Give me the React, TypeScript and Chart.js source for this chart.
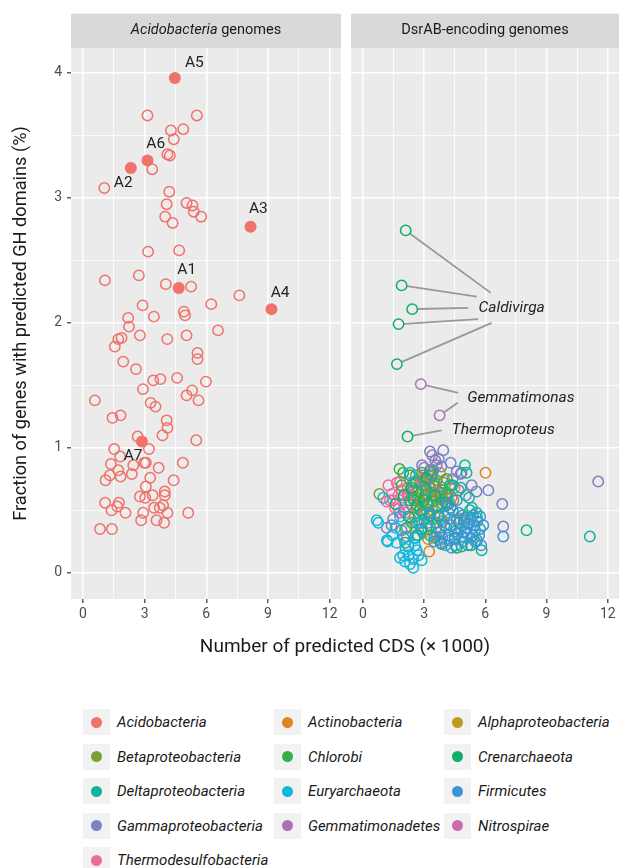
import React, { useEffect, useRef } from 'react';
import { Chart, registerables } from 'chart.js';
Chart.register(...registerables);

const FONT = 'Roboto, "Noto Sans", sans-serif';

// ---------- axes ----------
const xGridValues = [0, 1.5, 3, 4.5, 6, 7.5, 9, 10.5, 12];
const xMajorTicks = [0, 3, 6, 9, 12];
const xTickLabels = ['0', '3', '6', '9', '12'];
const yGridValues = [0, 0.5, 1, 1.5, 2, 2.5, 3, 3.5, 4];
const yMajorTicks = [0, 1, 2, 3, 4];
const yTickLabels = ['0', '1', '2', '3', '4'];
const xTitle = 'Number of predicted CDS (\u00d7 1000)';
const yTitle = 'Fraction of genes with predicted GH domains (%)';

// ---------- left panel: Acidobacteria genomes ----------
const acidoOpenX = [3.14, 5.54, 4.28, 4.88, 4.42, 4.11, 4.23, 3.37, 1.04, 4.20, 4.07, 5.04, 5.33, 5.39, 5.75, 4.00, 4.36, 3.17, 4.68, 1.07, 2.72, 4.03, 5.26, 7.61, 2.90, 6.24, 2.20, 3.45, 4.91, 4.97, 2.24, 6.57, 1.72, 1.88, 2.77, 4.10, 5.04, 1.55, 5.57, 5.57, 1.96, 2.58, 3.42, 3.77, 4.58, 5.98, 2.92, 5.31, 5.04, 5.62, 0.58, 3.29, 3.53, 1.44, 1.83, 4.07, 4.11, 3.87, 5.51, 2.66, 3.21, 1.52, 1.81, 1.36, 2.45, 2.98, 3.06, 4.86, 1.72, 2.38, 3.68, 1.31, 1.10, 1.83, 3.27, 4.41, 3.06, 3.98, 3.98, 3.39, 2.77, 3.03, 1.08, 1.75, 1.67, 1.39, 2.07, 2.93, 3.46, 3.74, 3.90, 4.11, 5.12, 2.83, 3.58, 3.95, 0.83, 1.41];
const acidoOpenY = [3.66, 3.66, 3.54, 3.55, 3.47, 3.35, 3.34, 3.23, 3.08, 3.05, 2.95, 2.96, 2.94, 2.89, 2.85, 2.85, 2.80, 2.57, 2.58, 2.34, 2.38, 2.31, 2.29, 2.22, 2.14, 2.15, 2.04, 2.05, 2.09, 2.06, 1.97, 1.94, 1.87, 1.88, 1.90, 1.87, 1.90, 1.81, 1.76, 1.71, 1.69, 1.63, 1.54, 1.55, 1.56, 1.53, 1.47, 1.46, 1.42, 1.38, 1.38, 1.36, 1.33, 1.24, 1.26, 1.22, 1.16, 1.10, 1.06, 1.09, 0.99, 0.99, 0.93, 0.87, 0.86, 0.88, 0.88, 0.88, 0.82, 0.79, 0.84, 0.78, 0.74, 0.77, 0.76, 0.74, 0.69, 0.65, 0.62, 0.62, 0.61, 0.60, 0.56, 0.56, 0.53, 0.50, 0.48, 0.48, 0.52, 0.52, 0.54, 0.48, 0.48, 0.42, 0.42, 0.40, 0.35, 0.35];
const acidoFilledX = [4.66, 2.33, 8.15, 9.17, 4.47, 3.14, 2.87];
const acidoFilledY = [2.28, 3.24, 2.77, 2.11, 3.96, 3.30, 1.05];
const acidoLabelNames = ['A1', 'A2', 'A3', 'A4', 'A5', 'A6', 'A7'];
const acidoLabelX = [5.05, 1.96, 8.53, 9.59, 5.42, 3.54, 2.44];
const acidoLabelY = [2.42, 3.12, 2.91, 2.24, 4.08, 3.43, 0.93];

// ---------- right panel: DsrAB-encoding genomes ----------
const euryX = [0.68, 0.76, 1.22, 1.66, 1.98, 1.82, 2.24, 2.07, 2.47, 2.31, 2.47, 2.73, 2.64, 2.88, 2.24, 1.82, 1.00, 2.31, 2.80, 1.18, 2.10, 2.55, 1.45, 2.00, 2.60, 1.60];
const euryY = [0.42, 0.40, 0.25, 0.24, 0.14, 0.12, 0.14, 0.09, 0.11, 0.07, 0.04, 0.14, 0.18, 0.10, 0.21, 0.45, 0.60, 0.80, 0.40, 0.26, 0.19, 0.22, 0.30, 0.28, 0.28, 0.36];
const firmX = [3.6, 3.8, 4.0, 4.2, 4.3, 4.5, 4.6, 4.8, 4.9, 5.0, 5.1, 5.2, 5.3, 5.4, 5.5, 5.6, 5.7, 5.8, 5.9, 4.4, 4.7, 5.0, 5.3, 3.9, 4.1, 6.88, 2.9, 3.3, 5.6, 4.2, 3.5, 4.05, 4.35, 4.65, 4.95, 5.15, 5.45, 5.75, 4.25, 4.85];
const firmY = [0.40, 0.33, 0.45, 0.30, 0.38, 0.27, 0.42, 0.35, 0.25, 0.44, 0.31, 0.39, 0.28, 0.46, 0.34, 0.41, 0.30, 0.22, 0.38, 0.50, 0.48, 0.33, 0.43, 0.28, 0.36, 0.29, 0.35, 0.48, 0.26, 0.55, 0.25, 0.22, 0.20, 0.31, 0.40, 0.22, 0.38, 0.45, 0.26, 0.29];
const deltaX = [5.0, 5.08, 4.84, 5.82, 5.57, 5.25, 8.02, 11.12, 3.2, 3.5, 3.7, 4.0, 4.3, 4.5, 4.7, 4.9, 5.1, 5.4, 5.6, 5.5, 4.6, 4.1, 3.9, 2.6, 2.9, 3.1, 4.4, 5.2, 3.4, 4.8, 2.4, 2.7, 3.0, 3.3, 3.6, 3.8, 4.2, 4.55, 5.35, 5.75, 3.15, 2.3];
const deltaY = [0.86, 0.80, 0.21, 0.18, 0.48, 0.50, 0.34, 0.29, 0.35, 0.28, 0.45, 0.38, 0.52, 0.33, 0.40, 0.46, 0.36, 0.30, 0.44, 0.25, 0.58, 0.62, 0.55, 0.72, 0.48, 0.66, 0.70, 0.60, 0.78, 0.68, 0.40, 0.30, 0.42, 0.45, 0.36, 0.24, 0.48, 0.22, 0.52, 0.35, 0.55, 0.58];
const gammaX = [3.29, 3.94, 3.55, 3.72, 4.60, 4.84, 5.33, 5.57, 6.15, 6.83, 6.88, 11.53, 1.17, 1.41, 1.49, 2.64, 3.29, 3.13, 3.55, 4.12, 2.15, 4.40, 3.85, 5.05, 2.00, 2.90, 3.45, 4.30, 4.70, 1.90];
const gammaY = [0.97, 0.98, 0.90, 0.91, 0.81, 0.80, 0.70, 0.65, 0.66, 0.55, 0.37, 0.73, 0.36, 0.38, 0.43, 0.40, 0.46, 0.66, 0.71, 0.54, 0.29, 0.75, 0.85, 0.62, 0.50, 0.86, 0.82, 0.88, 0.66, 0.34];
const crenX = [2.10, 1.90, 2.42, 1.75, 1.67, 2.19, 2.24, 2.64, 3.86, 4.60, 5.30, 3.13, 4.27, 1.60, 2.85, 3.55, 4.95, 3.30, 2.40, 4.50, 2.00, 2.55, 3.00, 3.70, 4.05, 2.30];
const crenY = [2.74, 2.30, 2.11, 1.99, 1.67, 1.09, 0.45, 0.54, 0.23, 0.20, 0.22, 0.76, 0.70, 0.55, 0.35, 0.62, 0.42, 0.82, 0.68, 0.28, 0.62, 0.28, 0.58, 0.46, 0.56, 0.78];
const chlorX = [1.79, 1.98, 2.64, 3.29, 2.07, 3.61, 2.80, 2.31, 4.12, 3.05, 3.29, 2.50, 3.80, 1.90, 2.15, 2.45, 2.75, 3.15, 3.45, 2.90];
const chlorY = [0.83, 0.80, 0.30, 0.30, 0.24, 0.53, 0.50, 0.44, 0.75, 0.62, 0.37, 0.58, 0.64, 0.70, 0.36, 0.66, 0.40, 0.48, 0.70, 0.80];
const nitroX = [3.78, 3.61, 1.82, 2.90, 2.64, 2.20, 3.20];
const nitroY = [0.26, 0.29, 0.48, 0.74, 0.52, 0.62, 0.40];
const thermoX = [1.17, 1.33, 1.49, 1.66, 1.82, 1.90, 1.57, 1.74, 1.98, 2.07, 2.24, 1.41, 1.74, 1.25];
const thermoY = [0.57, 0.58, 0.58, 0.72, 0.73, 0.66, 0.52, 0.51, 0.60, 0.48, 0.63, 0.63, 0.62, 0.70];
const gemmX = [2.84, 3.76, 2.47, 3.78, 4.44, 3.00, 4.79, 4.27, 3.40, 3.62];
const gemmY = [1.51, 1.26, 0.72, 0.61, 0.58, 0.84, 0.79, 0.43, 0.94, 0.86];
const actinoX = [3.25, 6.01, 3.20, 3.90, 2.95, 4.76];
const actinoY = [0.17, 0.80, 0.27, 0.41, 0.32, 0.43];
const betaX = [0.81, 2.5, 2.7, 2.9, 3.1, 3.0, 3.3, 3.5, 3.2, 2.8, 3.6, 3.9, 2.6, 3.4, 2.4, 4.1, 3.7, 3.05, 2.2, 2.35, 2.65, 2.85, 3.15, 3.35, 3.55, 3.75, 3.95, 2.95, 3.25, 3.45];
const betaY = [0.63, 0.72, 0.65, 0.70, 0.75, 0.60, 0.68, 0.62, 0.55, 0.58, 0.74, 0.66, 0.78, 0.80, 0.62, 0.60, 0.52, 0.67, 0.68, 0.55, 0.60, 0.76, 0.63, 0.58, 0.69, 0.61, 0.72, 0.50, 0.71, 0.57];
const alphaX = [3.78, 4.27, 2.07, 3.0, 3.3, 3.5, 2.9, 3.9, 4.5, 3.6, 3.2, 4.0, 2.7, 3.86, 3.4, 2.55, 2.45, 2.8, 3.1, 3.35, 3.65, 4.15, 4.35, 2.6, 3.0];
const alphaY = [0.80, 0.56, 0.35, 0.70, 0.64, 0.72, 0.55, 0.62, 0.68, 0.58, 0.78, 0.74, 0.66, 0.41, 0.50, 0.45, 0.60, 0.74, 0.62, 0.77, 0.66, 0.64, 0.60, 0.52, 0.46];

const annoNames = ['Caldivirga', 'Gemmatimonas', 'Thermoproteus'];
const annoTextX = [7.29, 7.74, 6.88];
const annoTextY = [2.12, 1.40, 1.14];
const segFromX = [2.10, 1.90, 2.42, 1.75, 1.67, 2.84, 3.76, 2.19];
const segFromY = [2.74, 2.30, 2.11, 1.99, 1.67, 1.51, 1.26, 1.09];
const segToX = [6.27, 5.58, 5.16, 5.65, 6.31, 4.67, 4.65, 3.86];
const segToY = [2.24, 2.21, 2.12, 2.03, 2.00, 1.44, 1.36, 1.14];

// ---------- classes / legend ----------
const classNames = ['Acidobacteria', 'Actinobacteria', 'Alphaproteobacteria', 'Betaproteobacteria', 'Chlorobi', 'Crenarchaeota', 'Deltaproteobacteria', 'Euryarchaeota', 'Firmicutes', 'Gammaproteobacteria', 'Gemmatimonadetes', 'Nitrospirae', 'Thermodesulfobacteria'];
const classColors = ['#F0726A', '#E0861F', '#BF9A1A', '#7CA035', '#33AF4A', '#10AE68', '#10B39B', '#10B8DC', '#3A95D6', '#7882C4', '#A872B4', '#D06AB0', '#EC6B9E'];

const stripLabels = [
  [{ text: 'Acidobacteria', italic: true }, { text: ' genomes', italic: false }],
  [{ text: 'DsrAB-encoding genomes', italic: false }],
];

const zip = (xs: number[], ys: number[]) => xs.map((x, i) => ({ x, y: ys[i] }));
const col = (name: string) => classColors[classNames.indexOf(name)];

export default function App() {
  const ref = useRef<HTMLCanvasElement>(null);

  useEffect(() => {
    document.body.style.margin = '0';
    const canvas = ref.current!;

    const openDs = (label: string, xs: number[], ys: number[], axis: string) => ({
      label,
      data: zip(xs, ys),
      xAxisID: axis,
      yAxisID: 'y',
      showLine: false,
      pointRadius: 5.2,
      pointBorderWidth: 1.5,
      pointBorderColor: col(label),
      pointBackgroundColor: 'rgba(0,0,0,0)',
      pointHoverRadius: 5.2,
    });

    const panelPlugin = {
      id: 'panels',
      beforeDraw(chart: any) {
        const { ctx, chartArea } = chart;
        const panels = [chart.scales.x, chart.scales.x2];
        ctx.save();
        ctx.fillStyle = '#fff';
        ctx.fillRect(0, 0, chart.width, chart.height);
        panels.forEach((s: any, i: number) => {
          ctx.fillStyle = '#EBEBEB';
          ctx.fillRect(s.left, chartArea.top, s.right - s.left, chartArea.bottom - chartArea.top);
          const stripH = 34.4;
          ctx.fillStyle = '#D9D9D9';
          ctx.fillRect(s.left, chartArea.top - stripH, s.right - s.left, stripH);
          const parts = stripLabels[i];
          ctx.fillStyle = '#1A1A1A';
          ctx.textBaseline = 'middle';
          ctx.textAlign = 'left';
          const fonts = parts.map((p) => `${p.italic ? 'italic ' : ''}14.5px ${FONT}`);
          let total = 0;
          parts.forEach((p, k) => { ctx.font = fonts[k]; total += ctx.measureText(p.text).width; });
          let cx = (s.left + s.right) / 2 - total / 2;
          const cy = chartArea.top - stripH / 2;
          parts.forEach((p, k) => {
            ctx.font = fonts[k];
            ctx.fillText(p.text, cx, cy);
            cx += ctx.measureText(p.text).width;
          });
        });
        ctx.restore();
      },
      beforeDatasetsDraw(chart: any) {
        const { ctx, chartArea } = chart;
        const gap = chart.scales.gap;
        ctx.save();
        ctx.fillStyle = '#fff';
        ctx.fillRect(gap.left, chartArea.top - 1, gap.right - gap.left, chartArea.bottom - chartArea.top + 2);
        const xs = chart.scales.x2, ys = chart.scales.y;
        ctx.strokeStyle = '#999999';
        ctx.lineWidth = 1.8;
        segFromX.forEach((fx, i) => {
          const x0 = xs.getPixelForValue(fx), y0 = ys.getPixelForValue(segFromY[i]);
          const x1 = xs.getPixelForValue(segToX[i]), y1 = ys.getPixelForValue(segToY[i]);
          const d = Math.hypot(x1 - x0, y1 - y0);
          const r = 5.5;
          ctx.beginPath();
          ctx.moveTo(x0 + ((x1 - x0) * r) / d, y0 + ((y1 - y0) * r) / d);
          ctx.lineTo(x1, y1);
          ctx.stroke();
        });
        ctx.restore();
      },
      afterDatasetsDraw(chart: any) {
        const { ctx } = chart;
        const ys = chart.scales.y;
        ctx.save();
        ctx.textAlign = 'center';
        ctx.textBaseline = 'middle';
        ctx.fillStyle = '#222';
        ctx.font = `15.5px ${FONT}`;
        acidoLabelNames.forEach((n, i) => {
          ctx.fillText(n, chart.scales.x.getPixelForValue(acidoLabelX[i]), ys.getPixelForValue(acidoLabelY[i]));
        });
        ctx.font = `italic 15.5px ${FONT}`;
        annoNames.forEach((n, i) => {
          ctx.fillText(n, chart.scales.x2.getPixelForValue(annoTextX[i]), ys.getPixelForValue(annoTextY[i]));
        });
        ctx.restore();
      },
      afterDraw(chart: any) {
        const { ctx, chartArea } = chart;
        ctx.save();
        ctx.textAlign = 'center';
        ctx.textBaseline = 'middle';
        ctx.fillStyle = '#1A1A1A';
        ctx.font = `19px ${FONT}`;
        const cx = (chart.scales.x.left + chart.scales.x2.right) / 2;
        ctx.fillText(xTitle, cx, chartArea.bottom + 48);
        ctx.restore();
      },
    };

    const majorX = (v: number) => xMajorTicks.includes(v);
    const majorY = (v: number) => yMajorTicks.includes(v);
    const fitX = (s: any) => { s.height = 28; s.paddingLeft = 0; s.paddingRight = 0; s.paddingTop = 0; s.paddingBottom = 0; };

    const xAxis = (weight: number) => ({
      type: 'linear',
      position: 'bottom',
      stack: 'panels',
      stackWeight: weight,
      min: -0.58,
      max: 12.55,
      afterBuildTicks: (s: any) => { s.ticks = xGridValues.map((v) => ({ value: v })); },
      afterFit: fitX,
      border: { display: false },
      grid: {
        color: '#FFFFFF',
        lineWidth: (c: any) => (c.tick && majorX(c.tick.value) ? 1.6 : 0.8),
        tickLength: 4,
        tickWidth: 1.2,
        tickColor: (c: any) => (c.tick && majorX(c.tick.value) ? '#333333' : 'rgba(0,0,0,0)'),
      },
      ticks: {
        autoSkip: false,
        maxRotation: 0,
        padding: 3,
        color: '#4D4D4D',
        font: { family: FONT, size: 14 },
        callback: (v: any) => { const i = xMajorTicks.indexOf(Number(v)); return i >= 0 ? xTickLabels[i] : ''; },
      },
    });

    const chart = new Chart(canvas, {
      type: 'scatter',
      data: {
        datasets: [
          openDs('Acidobacteria', acidoOpenX, acidoOpenY, 'x'),
          {
            label: 'Acidobacteria (A1-A7)',
            data: zip(acidoFilledX, acidoFilledY),
            xAxisID: 'x',
            yAxisID: 'y',
            pointRadius: 6,
            pointBorderWidth: 0,
            pointBackgroundColor: col('Acidobacteria'),
            pointBorderColor: col('Acidobacteria'),
          },
          openDs('Euryarchaeota', euryX, euryY, 'x2'),
          openDs('Firmicutes', firmX, firmY, 'x2'),
          openDs('Deltaproteobacteria', deltaX, deltaY, 'x2'),
          openDs('Gammaproteobacteria', gammaX, gammaY, 'x2'),
          openDs('Crenarchaeota', crenX, crenY, 'x2'),
          openDs('Chlorobi', chlorX, chlorY, 'x2'),
          openDs('Nitrospirae', nitroX, nitroY, 'x2'),
          openDs('Thermodesulfobacteria', thermoX, thermoY, 'x2'),
          openDs('Gemmatimonadetes', gemmX, gemmY, 'x2'),
          openDs('Actinobacteria', actinoX, actinoY, 'x2'),
          openDs('Betaproteobacteria', betaX, betaY, 'x2'),
          openDs('Alphaproteobacteria', alphaX, alphaY, 'x2'),
        ] as any,
      },
      options: {
        responsive: false,
        animation: false,
        events: [],
        layout: { autoPadding: false, padding: { top: 48, right: 0, bottom: 43, left: 0 } },
        plugins: { legend: { display: false }, tooltip: { enabled: false } },
        scales: {
          x: xAxis(270) as any,
          gap: {
            type: 'linear',
            position: 'bottom',
            stack: 'panels',
            stackWeight: 10,
            display: true,
            min: 0,
            max: 1,
            afterFit: fitX,
            grid: { display: false },
            border: { display: false },
            ticks: { display: false },
          } as any,
          x2: xAxis(268) as any,
          y: {
            type: 'linear',
            position: 'left',
            min: -0.21,
            max: 4.2,
            afterBuildTicks: (s: any) => { s.ticks = yGridValues.map((v) => ({ value: v })); },
            afterFit: (s: any) => { s.width = 71; s.paddingTop = 0; s.paddingBottom = 0; s.paddingLeft = 0; s.paddingRight = 0; },
            border: { display: false },
            grid: {
              color: '#FFFFFF',
              lineWidth: (c: any) => (c.tick && majorY(c.tick.value) ? 1.6 : 0.8),
              tickLength: 4,
              tickWidth: 1.2,
              tickColor: (c: any) => (c.tick && majorY(c.tick.value) ? '#333333' : 'rgba(0,0,0,0)'),
            },
            ticks: {
              autoSkip: false,
              padding: 5,
              color: '#4D4D4D',
              font: { family: FONT, size: 14 },
              callback: (v: any) => { const i = yMajorTicks.indexOf(Number(v)); return i >= 0 ? yTickLabels[i] : ''; },
            },
            title: {
              display: true,
              text: yTitle,
              color: '#1A1A1A',
              font: { family: FONT, size: 18.2 },
              padding: { top: 11, bottom: 0 },
            },
          } as any,
        },
      },
      plugins: [panelPlugin as any],
    });
    return () => chart.destroy();
  }, []);

  const colLeft = [83, 274, 444];
  const rowTop = 709;
  const rowStep = 34.6;

  return (
    <div style={{ position: 'relative', width: 619, height: 868, background: '#fff', overflow: 'hidden' }}>
      <canvas ref={ref} width={619} height={670} style={{ position: 'absolute', left: 0, top: 0, width: 619, height: 670 }} />
      {classNames.map((name, i) => {
        const r = Math.floor(i / 3);
        const c = i % 3;
        return (
          <div key={name} style={{ position: 'absolute', left: colLeft[c], top: rowTop + r * rowStep, height: 26, display: 'flex', alignItems: 'center' }}>
            <div style={{ width: 27, height: 26, background: '#F2F2F2', display: 'flex', alignItems: 'center', justifyContent: 'center' }}>
              <div style={{ width: 11, height: 11, borderRadius: '50%', background: classColors[i] }} />
            </div>
            <span style={{ marginLeft: 7, fontFamily: FONT, fontStyle: 'italic', fontSize: 15, color: '#1A1A1A', whiteSpace: 'nowrap' }}>{name}</span>
          </div>
        );
      })}
    </div>
  );
}
